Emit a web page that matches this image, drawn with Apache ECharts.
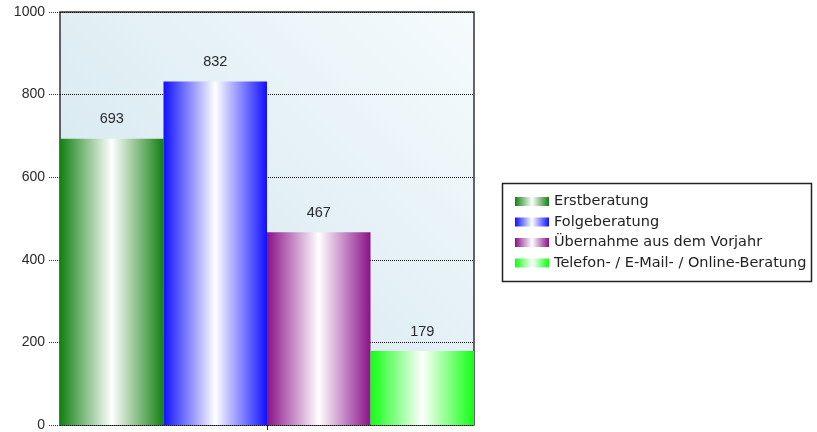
<!DOCTYPE html>
<html>
<head>
<meta charset="utf-8">
<script src="https://cdn.jsdelivr.net/npm/echarts@6/dist/echarts.min.js"></script>
<style>html,body{margin:0;padding:0;background:#fff;}#c{width:817px;height:432px;}</style>
</head>
<body>
<div id="c"></div>
<script>
const categories = [''];
const seriesNames = ['Erstberatung', 'Folgeberatung', 'Übernahme aus dem Vorjahr', 'Telefon- / E-Mail- / Online-Beratung'];
const seriesValues = [693, 832, 467, 179];
const seriesColors = ['#128012', '#1010ff', '#8a1288', '#12ff12'];
const yTicks = [0, 200, 400, 600, 800, 1000];

function grad(c) {
  return new echarts.graphic.LinearGradient(0, 0, 1, 0, [
    { offset: 0, color: c },
    { offset: 0.5, color: '#ffffff' },
    { offset: 1, color: c }
  ]);
}

const chart = echarts.init(document.getElementById('c'), null, { renderer: 'canvas' });
const font = 'Liberation Sans, Arial, sans-serif';

chart.setOption({
  animation: false,
  textStyle: { fontFamily: font },
  grid: {
    left: 60, top: 12, right: 343, bottom: 6,
    show: true,
    backgroundColor: new echarts.graphic.LinearGradient(0, 1, 1, 0, [
      { offset: 0, color: '#cbe2ec' },
      { offset: 1, color: '#f6fbfd' }
    ]),
    borderColor: '#333',
    borderWidth: 1.5
  },
  legend: {
    orient: 'vertical',
    left: 510, top: 189,
    icon: 'rect',
    itemWidth: 34, itemHeight: 9,
    itemGap: 5.5,
    textStyle: { fontSize: 14.5, color: '#222', fontFamily: 'DejaVu Sans, sans-serif', lineHeight: 14 },
    data: seriesNames
  },
  graphic: [{
    type: 'rect',
    shape: { x: 502.5, y: 183.5, width: 309, height: 98 },
    style: { fill: '#fff', stroke: '#222', lineWidth: 1.5 },
    z: -1
  }],
  xAxis: {
    type: 'category',
    data: categories,
    axisLine: { show: false },
    axisTick: { show: true, alignWithLabel: true, length: 5, lineStyle: { color: '#222' } },
    axisLabel: { show: false }
  },
  yAxis: {
    type: 'value',
    min: yTicks[0], max: yTicks[yTicks.length - 1], interval: 200,
    axisLine: { show: false },
    axisTick: { show: true, length: 11, lineStyle: { color: '#333', type: 'dotted' } },
    axisLabel: { fontSize: 14, color: '#2a2a2a', margin: 15, formatter: v => String(v) },
    splitLine: { show: true, lineStyle: { color: '#111', type: 'dotted', width: 1 } }
  },
  series: seriesNames.map((n, i) => ({
    name: n,
    type: 'bar',
    barGap: 0,
    barCategoryGap: 0,
    data: [seriesValues[i]],
    itemStyle: { color: grad(seriesColors[i]) },
    label: { show: true, position: 'top', distance: 12, fontSize: 14.5, color: '#2a2a2a' }
  }))
});
</script>
</body>
</html>
